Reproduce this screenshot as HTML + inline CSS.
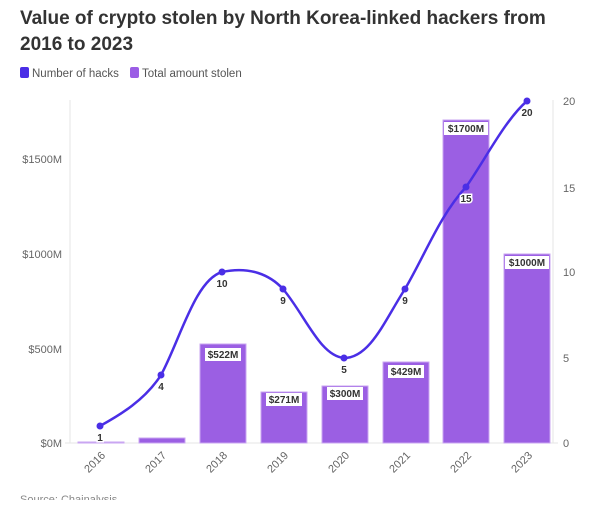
<!DOCTYPE html>
<html><head><style>
body{margin:0;background:#fff;font-family:"Liberation Sans",sans-serif;}
</style></head><body>
<svg width="600" height="500" xmlns="http://www.w3.org/2000/svg" font-family="Liberation Sans, sans-serif">
<text x="20" y="24" font-size="19" font-weight="bold" fill="#333">Value of crypto stolen by North Korea-linked hackers from</text>
<text x="20" y="50" font-size="19" font-weight="bold" fill="#333">2016 to 2023</text>
<rect x="20" y="67" width="9" height="11" rx="2" fill="#4a2ee6"/>
<text x="32" y="77" font-size="11.5" fill="#555">Number of hacks</text>
<rect x="130" y="67" width="9" height="11" rx="2" fill="#9b5de5"/>
<text x="142" y="77" font-size="11.5" fill="#555">Total amount stolen</text>
<g stroke="#e6e6e6" stroke-width="1">
<line x1="70" y1="100" x2="70" y2="443"/>
<line x1="553" y1="100" x2="553" y2="443"/>
<line x1="65" y1="443" x2="558" y2="443"/>
</g>
<g font-size="11" fill="#666" text-anchor="end">
<text x="62" y="447">$0M</text><text x="62" y="353">$500M</text><text x="62" y="258">$1000M</text><text x="62" y="163">$1500M</text>
</g>
<g font-size="11" fill="#666">
<text x="563" y="447">0</text><text x="563" y="362">5</text><text x="563" y="276">10</text><text x="563" y="192">15</text><text x="563" y="105">20</text>
</g>
<g fill="#9b5fe3" stroke="#c9a6f2" stroke-width="1">
<rect x="78" y="442" width="46" height="1"/>
<rect x="139" y="438" width="46" height="5"/>
<rect x="200" y="344" width="46" height="99"/>
<rect x="261" y="392" width="46" height="51"/>
<rect x="322" y="386" width="46" height="57"/>
<rect x="383" y="362" width="46" height="81"/>
<rect x="443" y="120" width="46" height="323"/>
<rect x="504" y="254" width="46" height="189"/>
</g>
<g font-size="10" font-weight="bold" fill="#333" text-anchor="middle">
<rect x="205" y="348" width="36" height="13" fill="#fff"/><text x="223" y="358">$522M</text>
<rect x="266" y="393" width="36" height="13" fill="#fff"/><text x="284" y="403">$271M</text>
<rect x="327" y="387" width="36" height="13" fill="#fff"/><text x="345" y="397">$300M</text>
<rect x="388" y="365" width="36" height="13" fill="#fff"/><text x="406" y="375">$429M</text>
<rect x="444" y="122" width="44" height="13" fill="#fff"/><text x="466" y="132">$1700M</text>
<rect x="505" y="256" width="44" height="13" fill="#fff"/><text x="527" y="266">$1000M</text>
</g>
<path d="M100,426 C120,415 145,400 161,375 C180,340 195,280 222,272 C250,266 270,275 283,289 C305,315 320,356 344,358 C370,358 385,320 405,289 C425,255 440,215 466,187 C485,160 505,120 527,101" fill="none" stroke="#4a2ee6" stroke-width="2.5"/>
<g fill="#4a2ee6">
<circle cx="100" cy="426" r="3.5"/><circle cx="161" cy="375" r="3.5"/><circle cx="222" cy="272" r="3.5"/><circle cx="283" cy="289" r="3.5"/><circle cx="344" cy="358" r="3.5"/><circle cx="405" cy="289" r="3.5"/><circle cx="466" cy="187" r="3.5"/><circle cx="527" cy="101" r="3.5"/>
</g>
<g font-size="10" font-weight="bold" fill="#333" text-anchor="middle" stroke="#fff" stroke-width="3" paint-order="stroke">
<text x="100" y="441">1</text><text x="161" y="390">4</text><text x="222" y="287">10</text><text x="283" y="304">9</text><text x="344" y="373">5</text><text x="405" y="304">9</text><text x="466" y="202">15</text><text x="527" y="116">20</text>
</g>
<g font-size="11" fill="#666" text-anchor="end">
<text transform="translate(106,456) rotate(-45)">2016</text>
<text transform="translate(167,456) rotate(-45)">2017</text>
<text transform="translate(228,456) rotate(-45)">2018</text>
<text transform="translate(289,456) rotate(-45)">2019</text>
<text transform="translate(350,456) rotate(-45)">2020</text>
<text transform="translate(411,456) rotate(-45)">2021</text>
<text transform="translate(472,456) rotate(-45)">2022</text>
<text transform="translate(533,456) rotate(-45)">2023</text>
</g>
<text x="20" y="503" font-size="11" fill="#888">Source: Chainalysis</text>
</svg>
</body></html>
